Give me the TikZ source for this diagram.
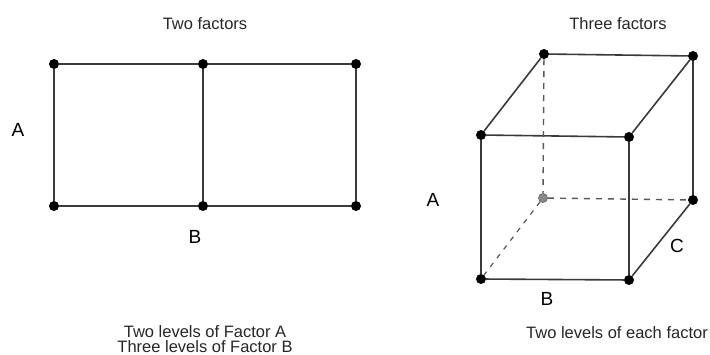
\documentclass[tikz,border=0pt]{standalone}
\usepackage{fontspec}
\setmainfont{Liberation Sans}
\definecolor{lineGray}{HTML}{3A3A3A}
\definecolor{hidGray}{HTML}{8A8A8A}

\begin{document}
\begin{tikzpicture}[
    x=1pt, y=-1pt,
    dot/.style={circle, fill=black, inner sep=0pt, minimum size=10pt},
    hiddendot/.style={circle, fill=hidGray, draw=lineGray!80, line width=0.6pt, inner sep=0pt, minimum size=9pt},
    edge/.style={draw=lineGray, line width=1.6pt},
    hidden/.style={draw=lineGray!85, line width=1.4pt, dash pattern=on 6pt off 6pt},
    title/.style={font=\fontsize{16.5}{15}\selectfont, text=black!85},
    factor/.style={font=\fontsize{19}{19}\selectfont}
  ]
    \useasboundingbox (0,0) rectangle (710,355);

    % two factors: 2 x 3 grid
    \node[title] (ttwo) at (205,24) {Two factors};
    \node[dot] (tl) at (54,64) {};
    \node[dot] (tm) at (203,64) {};
    \node[dot] (tr) at (356,64) {};
    \node[dot] (bl) at (54,206) {};
    \node[dot] (bm) at (203,206) {};
    \node[dot] (br) at (356,206) {};
    \node[factor] (la) at (18,130) {A};
    \node[factor] (lb) at (195,237) {B};
    \node[title, align=center, inner sep=0pt] (ntwo) at (205,339) {Two levels of Factor A\\Three levels of Factor B};

    \draw[edge] (tl) -- (tm);
    \draw[edge] (tm) -- (tr);
    \draw[edge] (bl) -- (bm);
    \draw[edge] (bm) -- (br);
    \draw[edge] (tl) -- (bl);
    \draw[edge] (tm) -- (bm);
    \draw[edge] (tr) -- (br);

    % three factors: cube
    \node[title] (tthree) at (618,24) {Three factors};
    \node[dot] (ktl) at (544,54) {};
    \node[dot] (ktr) at (693,56) {};
    \node[dot] (ftl) at (481,135) {};
    \node[dot] (ftr) at (629,137) {};
    \node[hiddendot] (kbl) at (543,198) {};
    \node[dot] (kbr) at (693,200) {};
    \node[dot] (fbl) at (481,279) {};
    \node[dot] (fbr) at (629,280) {};
    \node[factor] (ca) at (433,200) {A};
    \node[factor] (cb) at (547,299) {B};
    \node[factor] (cc) at (677,246) {C};
    \node[title] (nthree) at (617,333) {Two levels of each factor};

    \draw[edge] (ktl) -- (ktr);
    \draw[edge] (ftl) -- (ftr);
    \draw[edge] (fbl) -- (fbr);
    \draw[edge] (ktl) -- (ftl);
    \draw[edge] (ktr) -- (ftr);
    \draw[edge] (kbr) -- (fbr);
    \draw[edge] (ftl) -- (fbl);
    \draw[edge] (ftr) -- (fbr);
    \draw[edge] (ktr) -- (kbr);
    \draw[hidden] (ktl) -- (kbl);
    \draw[hidden] (kbl) -- (kbr);
    \draw[hidden, line width=1.2pt, dash pattern=on 5pt off 6pt] (kbl) -- (fbl);
\end{tikzpicture}
\end{document}
